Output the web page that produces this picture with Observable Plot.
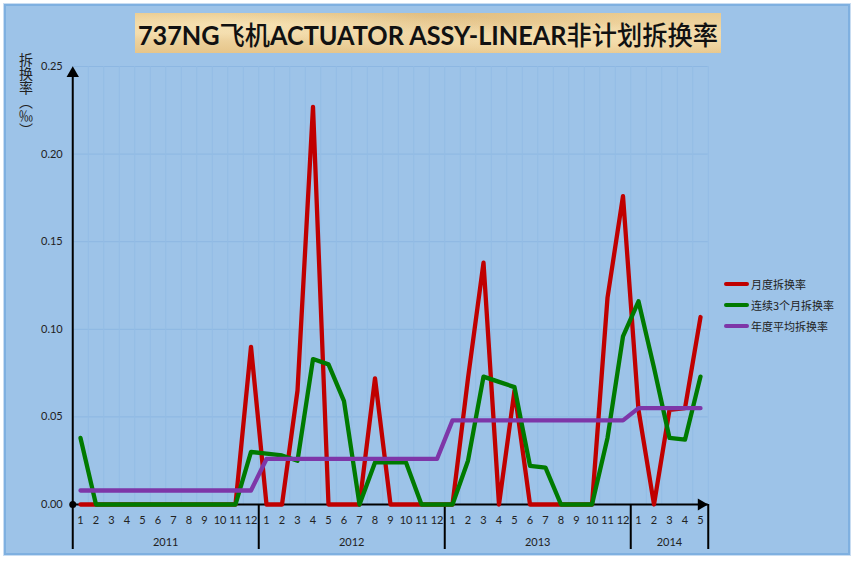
<!DOCTYPE html>
<html>
<head>
<meta charset="utf-8">
<script src="https://cdn.jsdelivr.net/npm/d3@7"></script>
<script src="https://cdn.jsdelivr.net/npm/@observablehq/plot@0.6"></script>
<style>
html, body { margin: 0; padding: 0; background: #ffffff; }
#wrap { position: relative; width: 856px; height: 564px; overflow: hidden; font-family: Lato, "Noto Sans CJK SC", sans-serif; }
#frame { position: absolute; left: 4px; top: 4px; width: 846px; height: 551px; box-sizing: border-box;
  background: #9DC3E8; border: 2px solid #7FB0E0; box-shadow: 0 0 0 1px #C9DDF2; }
#title { position: absolute; left: 135px; top: 13px; width: 586px; height: 40px;
  background:
    radial-gradient(ellipse at 20% 30%, rgba(255,240,200,0.5), rgba(255,240,200,0) 40%),
    radial-gradient(ellipse at 75% 70%, rgba(255,238,196,0.45), rgba(255,238,196,0) 45%),
    radial-gradient(ellipse at 50% 10%, rgba(205,160,95,0.35), rgba(205,160,95,0) 50%),
    linear-gradient(180deg, #EACB90 0%, #F1D9A8 50%, #E6C58A 100%);
  display: flex; align-items: center; justify-content: center; overflow: hidden; }
#title span { font-size: 26px; font-weight: 700; color: #111; white-space: nowrap; display: inline-block; transform-origin: center center; }
#title span .cjk { font-family: "Noto Sans CJK SC"; font-weight: 500; }
#ylab { position: absolute; left: 18px; top: 53px; writing-mode: vertical-rl; font-size: 14px; line-height: 16px;
  font-family: "Noto Sans CJK SC"; color: #222; }
#legend { position: absolute; left: 724px; top: 273px; font-size: 11px; font-family: "Noto Sans CJK SC"; color: #222; }
#legend .row { display: flex; align-items: center; height: 21px; }
#legend .sw { width: 25px; height: 4px; border-radius: 2px; margin-right: 2px; }
#chart { position: absolute; left: 0; top: 0; }
</style>
</head>
<body>
<div id="wrap">
  <div id="frame"></div>
  <div id="title"><span id="titleText">737NG<span class="cjk">飞机</span>ACTUATOR ASSY-LINEAR<span class="cjk">非计划拆换率</span></span></div>
  <div id="ylab">拆换率（‰）</div>
  <div id="chart"></div>
  <div id="legend"></div>
</div>
<script>
// ---- data ----
const years = ["2011", "2012", "2013", "2014"];
const monthsPerYear = [12, 12, 12, 5];
const months = [
  "1","2","3","4","5","6","7","8","9","10","11","12",
  "1","2","3","4","5","6","7","8","9","10","11","12",
  "1","2","3","4","5","6","7","8","9","10","11","12",
  "1","2","3","4","5"
];
const yTicks = [0, 0.05, 0.10, 0.15, 0.20, 0.25];

// 月度拆换率
const monthly = [
  0, 0, 0, 0, 0, 0, 0, 0, 0, 0, 0, 0.090,
  0, 0, 0.065, 0.227, 0, 0, 0, 0.072, 0, 0, 0, 0,
  0, 0.072, 0.138, 0, 0.065, 0, 0, 0, 0, 0, 0.118, 0.176,
  0.054, 0, 0.054, 0.055, 0.107
];
// 连续3个月拆换率
const rolling = [
  0.038, 0, 0, 0, 0, 0, 0, 0, 0, 0, 0, 0.030,
  0.029, 0.028, 0.025, 0.083, 0.080, 0.059, 0, 0.024, 0.024, 0.024, 0, 0,
  0, 0.025, 0.073, 0.070, 0.067, 0.022, 0.021, 0, 0, 0, 0.038, 0.096,
  0.116, 0.078, 0.038, 0.037, 0.073
];
// 年度平均拆换率
const annual = [
  0.008, 0.008, 0.008, 0.008, 0.008, 0.008, 0.008, 0.008, 0.008, 0.008, 0.008, 0.008,
  0.026, 0.026, 0.026, 0.026, 0.026, 0.026, 0.026, 0.026, 0.026, 0.026, 0.026, 0.026,
  0.048, 0.048, 0.048, 0.048, 0.048, 0.048, 0.048, 0.048, 0.048, 0.048, 0.048, 0.048,
  0.055, 0.055, 0.055, 0.055, 0.055
];

const seriesNames = ["月度拆换率", "连续3个月拆换率", "年度平均拆换率"];
const seriesColors = ["#C00000", "#007A00", "#7E36A8"];

// ---- derived tables ----
const N = months.length;
const rows = months.map((m, i) => ({i, monthly: monthly[i], rolling: rolling[i], annual: annual[i]}));
const xDomain = [-0.5, N - 0.5];
let start = 0;
const yearRows = years.map((y, k) => {
  const r = {year: y, mid: start + (monthsPerYear[k] - 1) / 2, end: start + monthsPerYear[k] - 0.5};
  start += monthsPerYear[k];
  return r;
});
const gridColor = "#93BCE5";

const chart = Plot.plot({
  width: 856,
  height: 564,
  marginLeft: 72.25,
  marginRight: 148.25,
  marginTop: 66,
  marginBottom: 60,
  style: {background: "transparent", fontFamily: "Lato, 'Noto Sans CJK SC', sans-serif", overflow: "visible"},
  x: {type: "linear", domain: xDomain},
  y: {domain: [0, 0.25]},
  marks: [
    Plot.gridY(yTicks.slice(1), {stroke: "#8DB7E2", strokeOpacity: 1, strokeWidth: 1}),
    Plot.gridX(d3.range(1, N + 1).map(k => k - 0.5), {stroke: gridColor, strokeOpacity: 1, strokeWidth: 1}),
    Plot.axisY(yTicks, {tickSize: 0, tickPadding: 10, tickFormat: d3.format(".2f"), fontSize: 11, fill: "#222", label: null}),
    Plot.axisX(d3.range(N), {tickSize: 0, tickPadding: 12, tickFormat: i => months[i], fontSize: 11, fill: "#222", label: null}),
    Plot.text(yearRows, {x: "mid", y: () => 0, text: "year", dy: 38, fontSize: 11, fill: "#222"}),
    Plot.ruleX(yearRows, {x: "end", y1: () => 0, y2: () => 0, insetBottom: -45, stroke: "#000", strokeWidth: 2}),
    Plot.ruleX([xDomain[0]], {y1: () => 0.25, y2: () => 0, insetTop: 8, insetBottom: -45, stroke: "#000", strokeWidth: 2}),
    Plot.ruleY([0], {stroke: "#000", strokeWidth: 2}),
    Plot.line(rows, {x: "i", y: "monthly", stroke: seriesColors[0], strokeWidth: 4.3, strokeLinejoin: "round"}),
    Plot.line(rows, {x: "i", y: "rolling", stroke: seriesColors[1], strokeWidth: 4.3, strokeLinejoin: "round"}),
    Plot.line(rows, {x: "i", y: "annual", stroke: seriesColors[2], strokeWidth: 4.3, strokeLinejoin: "round", strokeLinecap: "round"}),
    Plot.dot([0.25], {x: () => xDomain[0], y: d => d, symbol: "triangle", r: 4.6, fill: "#000", stroke: "none", dy: 7}),
    Plot.dot([xDomain[1]], {x: d => d, y: () => 0, symbol: "triangle", r: 4.4, fill: "#000", stroke: "none", rotate: 90, dx: -7}),
    Plot.dot([0], {x: () => xDomain[0], y: d => d, r: 3.5, fill: "#000", stroke: "none"})
  ]
});
document.getElementById("chart").appendChild(chart);

// legend
const legend = document.getElementById("legend");
seriesNames.forEach((name, k) => {
  const row = document.createElement("div");
  row.className = "row";
  const sw = document.createElement("span");
  sw.className = "sw";
  sw.style.background = seriesColors[k];
  const t = document.createElement("span");
  t.textContent = name;
  row.appendChild(sw);
  row.appendChild(t);
  legend.appendChild(row);
});

// fit title to its box width
const tt = document.getElementById("titleText");
const w = tt.getBoundingClientRect().width;
const target = 580;
if (w > 0) tt.style.transform = `scaleX(${target / w})`;
</script>
</body>
</html>
